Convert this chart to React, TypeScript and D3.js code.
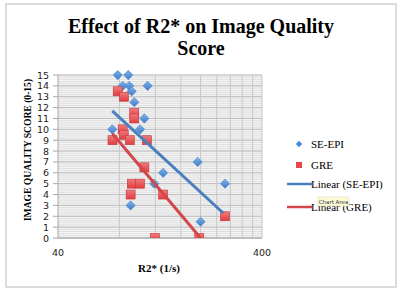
import React from "react";
import * as d3 from "d3";

// R2* (1/s) vs image quality score
const seEpiR2 = [78.5, 88.4, 83, 89.4, 91.9, 110, 94.6, 106, 73.8, 101, 131, 118.6, 90.8, 193.6, 263.6, 200];
const seEpiScore = [15, 15, 14, 14, 13.5, 14, 12.5, 11, 10, 10, 6, 5, 3, 7, 5, 1.5];

const greR2 = [78.5, 84.2, 94.6, 94.6, 83, 84, 74, 90, 109, 106, 92, 101, 90.8, 131, 119.4, 197, 263.6];
const greScore = [13.5, 13, 11.5, 11, 10, 9.5, 9, 9, 9, 6.5, 5, 5, 4, 4, 0, 0, 2];

// trendline ends as they appear on the chart [R2*, score]
const trendSeEpi = [[73.8, 11.7], [258, 2.3]];
const trendGre = [[74, 9.6], [200, 0]];

const yTicks = d3.range(0, 16);
const xMinorGrid = [80, 120, 160, 200, 240, 280, 320, 360, 400];
const xTickLabels = [40, 400];

const BLUE = "#4a8bd6";
const RED = "#e4474b";
const BLUE_LINE = "#4a7fbf";
const RED_LINE = "#d2474a";

export default function App() {
  const x = d3.scaleLog().domain([40, 400]).range([58, 262]);
  const y = d3.scaleLinear().domain([0, 15]).range([238, 75]);
  const line = d3.line<number[]>().x(d => x(d[0])).y(d => y(d[1]));
  const minor = d3.range(0, 15.01, 0.2);

  const serif = "'Liberation Serif', serif";
  const sans = "'DejaVu Sans', sans-serif";

  return (
    <svg width={400} height={292} style={{ position: "absolute", left: 0, top: 0 }}>
      <defs>
        <clipPath id="plot">
          <rect x={58} y={70} width={204} height={168} />
        </clipPath>
        <linearGradient id="gb" x1="0" y1="0" x2="1" y2="1">
          <stop offset="0" stopColor="#80b3ea" />
          <stop offset="1" stopColor="#3b7cc9" />
        </linearGradient>
        <linearGradient id="gr" x1="0" y1="0" x2="0" y2="1">
          <stop offset="0" stopColor="#f07a7c" />
          <stop offset="1" stopColor="#df3d42" />
        </linearGradient>
      </defs>
      <rect x={0} y={0} width={400} height={292} fill="#fff" />
      <rect x={6} y={4} width={390} height={283} fill="#fff" stroke="#cfcfcf" strokeWidth={1.5} />

      <text x={201} y={33} textAnchor="middle" fontFamily={serif} fontWeight="bold" fontSize={20}>
        Effect of R2* on Image Quality
      </text>
      <text x={201} y={55} textAnchor="middle" fontFamily={serif} fontWeight="bold" fontSize={20}>
        Score
      </text>

      {/* grid */}
      <rect x={58} y={y(15)} width={204} height={y(0) - y(15)} fill="#f4f4f4" />
      {minor.map((v, i) => (
        <line key={"m" + i} x1={58} x2={262} y1={y(v)} y2={y(v)} stroke="#d6d6d6" strokeWidth={0.7} />
      ))}
      {yTicks.map(v => (
        <line key={"g" + v} x1={58} x2={262} y1={y(v)} y2={y(v)} stroke="#b8b8b8" strokeWidth={0.9} />
      ))}
      {xMinorGrid.map(v => (
        <line key={"v" + v} x1={x(v)} x2={x(v)} y1={y(15)} y2={y(0)} stroke="#c4c4c4" strokeWidth={0.9} />
      ))}
      <line x1={58} x2={58} y1={y(15)} y2={y(0)} stroke="#a8a8a8" />
      <line x1={58} x2={262} y1={y(0)} y2={y(0)} stroke="#a8a8a8" />
      {yTicks.map(v => (
        <line key={"t" + v} x1={53} x2={58} y1={y(v)} y2={y(v)} stroke="#a8a8a8" />
      ))}

      {yTicks.map(v => (
        <text key={"l" + v} x={49} y={y(v) + 3.5} textAnchor="end" fontFamily={sans} fontSize={9.5} fill="#222">
          {v}
        </text>
      ))}
      {xTickLabels.map(v => (
        <text key={"x" + v} x={x(v)} y={256} textAnchor="middle" fontFamily={sans} fontSize={9.5} fill="#222">
          {v}
        </text>
      ))}

      <text
        transform="translate(31,150) rotate(-90)"
        textAnchor="middle"
        fontFamily={serif}
        fontWeight="bold"
        fontSize={9.6}
      >
        IMAGE QUALITY SCORE (0-15)
      </text>
      <text x={159} y={272} textAnchor="middle" fontFamily={serif} fontWeight="bold" fontSize={11}>
        R2* (1/s)
      </text>

      {/* points */}
      <g clipPath="url(#plot)">
        {seEpiR2.map((v, i) => (
          <rect
            key={"b" + i}
            x={-3.3}
            y={-3.3}
            width={6.6}
            height={6.6}
            transform={`translate(${x(v)},${y(seEpiScore[i])}) rotate(45)`}
            fill="url(#gb)"
            stroke="#3f7cc4"
            strokeWidth={0.5}
          />
        ))}
        {greR2.map((v, i) => (
          <rect
            key={"r" + i}
            x={x(v) - 4.5}
            y={y(greScore[i]) - 4.5}
            width={9}
            height={9}
            fill="url(#gr)"
            stroke="#c83539"
            strokeWidth={0.6}
          />
        ))}
        <path d={line(trendSeEpi)!} stroke={BLUE_LINE} strokeWidth={3} fill="none" />
        <path d={line(trendGre)!} stroke={RED_LINE} strokeWidth={3} fill="none" />
      </g>

      {/* legend */}
      <rect x={-2.3} y={-2.3} width={4.6} height={4.6} transform="translate(299,144) rotate(45)" fill={BLUE} />
      <text x={311} y={148} fontFamily={serif} fontSize={11}>SE-EPI</text>
      <rect x={296} y={162} width={6} height={6} fill={RED} />
      <text x={311} y={169} fontFamily={serif} fontSize={11}>GRE</text>
      <line x1={287} x2={312} y1={184} y2={184} stroke={BLUE_LINE} strokeWidth={2.5} />
      <text x={311} y={188} fontFamily={serif} fontSize={11}>Linear (SE-EPI)</text>
      <line x1={287} x2={312} y1={207} y2={207} stroke={RED_LINE} strokeWidth={2.5} />
      <text x={311} y={211} fontFamily={serif} fontSize={11}>Linear (GRE)</text>

      {/* hover tooltip */}
      <rect x={318} y={197} width={31} height={9} fill="#fbfbd8" stroke="#d8d8a8" strokeWidth={0.5} />
      <text x={333.5} y={204} textAnchor="middle" fontFamily={sans} fontSize={5.5} fill="#333">
        Chart Area
      </text>
    </svg>
  );
}
